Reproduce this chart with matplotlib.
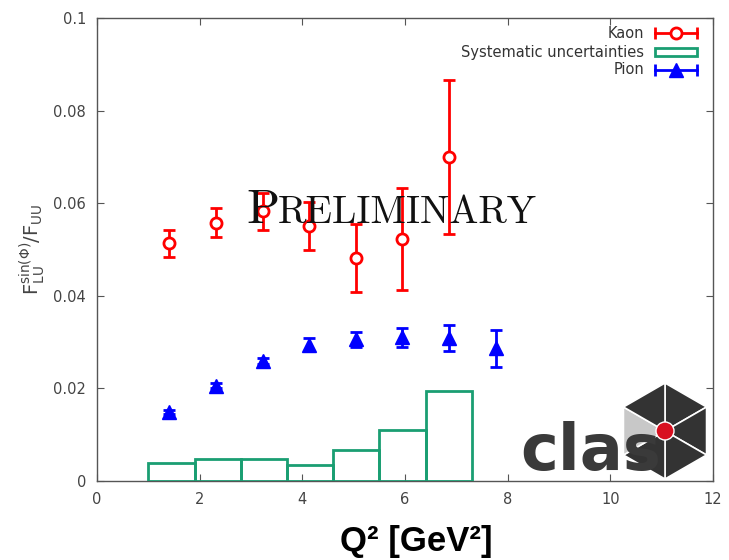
import numpy as np
import matplotlib
matplotlib.use('Agg')
import matplotlib.pyplot as plt
from matplotlib.patches import Polygon, Circle, Rectangle
from matplotlib.lines import Line2D

# data
kaon_q2 = [1.40, 2.32, 3.24, 4.13, 5.05, 5.95, 6.86]
kaon_val = [0.0513, 0.0558, 0.0583, 0.0551, 0.0482, 0.0522, 0.0700]
kaon_err = [0.0030, 0.0032, 0.0040, 0.0052, 0.0073, 0.0110, 0.0167]

pion_q2 = [1.40, 2.32, 3.24, 4.13, 5.05, 5.95, 6.86, 7.78]
pion_val = [0.0149, 0.0206, 0.0259, 0.0294, 0.0306, 0.0310, 0.0308, 0.0287]
pion_err = [0.0004, 0.0005, 0.0006, 0.0014, 0.0016, 0.0020, 0.0028, 0.0040]

sys_edges = [1.0, 1.9, 2.8, 3.7, 4.6, 5.5, 6.4]
sys_width = 0.9
sys_val = [0.0038, 0.0047, 0.0048, 0.0034, 0.0066, 0.0110, 0.0195]

xticks = [0, 2, 4, 6, 8, 10, 12]
yticks = [0, 0.02, 0.04, 0.06, 0.08, 0.1]
ytick_labels = ['0', '0.02', '0.04', '0.06', '0.08', '0.1']

fig = plt.figure(figsize=(7.29, 5.6), dpi=100)
ax = fig.add_axes([97/729, 1-481/560, (713-97)/729, (481-18)/560])

green = '#1a9e72'
ax.errorbar(kaon_q2, kaon_val, yerr=kaon_err, fmt='o', color='red', ecolor='red',
            mfc='white', mec='red', ms=8, mew=2, elinewidth=2, capsize=4, capthick=2,
            zorder=4)
ax.bar(sys_edges, sys_val, width=sys_width, align='edge', fill=False,
       edgecolor=green, linewidth=2, zorder=3)
ax.errorbar(pion_q2, pion_val, yerr=pion_err, fmt='^', color='blue', ecolor='blue',
            mfc='blue', mec='blue', ms=9.5, elinewidth=2, capsize=4, capthick=2,
            zorder=4)

ax.set_xlim(0, 12)
ax.set_ylim(0, 0.1)
ax.set_xticks(xticks)
ax.set_yticks(yticks)
ax.set_yticklabels(ytick_labels)
ax.tick_params(direction='in', top=True, right=True, length=5, width=0.8,
               colors='#555555', labelcolor='#444444', labelsize=10.5, pad=8)
for s in ax.spines.values():
    s.set_color('#555555')
    s.set_linewidth(1)

ax.set_ylabel(r'$\mathregular{F_{LU}^{sin(\Phi)}/F_{UU}}$', color='#444444',
              fontsize=14, labelpad=4)
fig.text(416/729, 1-541/560, 'Q² [GeV²]', family='Liberation Sans', weight='bold',
         fontsize=25, ha='center', va='center', color='black')

# overlay in pixel coordinates for key, stamp and logo
lax = fig.add_axes([0, 0, 1, 1], facecolor='none')
lax.set_xlim(0, 729)
lax.set_ylim(560, 0)
lax.axis('off')

# key, gnuplot style: text right aligned, sample on the right
key_labels = ['Kaon', 'Systematic uncertainties', 'Pion']
key_y = [33, 52, 70]
for lab, y in zip(key_labels, key_y):
    lax.text(644, y, lab, fontsize=10.5, color='#333333', ha='right', va='center')
x0, x1 = 655, 697
lax.add_line(Line2D([x0, x1], [33, 33], color='red', lw=2))
lax.add_line(Line2D([x0, x1], [33, 33], color='red', lw=0, marker='|', ms=8, mew=2))
lax.add_line(Line2D([676], [33], color='red', lw=0, marker='o', ms=8, mfc='white', mew=2))
lax.add_patch(Rectangle((x0, 48), x1 - x0, 8, fill=False, edgecolor=green, lw=2))
lax.add_line(Line2D([x0, x1], [70, 70], color='blue', lw=2))
lax.add_line(Line2D([x0, x1], [70, 70], color='blue', lw=0, marker='|', ms=8, mew=2))
lax.add_line(Line2D([676], [70], color='blue', lw=0, marker='^', ms=9.5))

# "Preliminary" stamp in small caps
lax.text(246, 223, 'P', family='cmr10', fontsize=35, color='#111111',
         ha='left', va='baseline', zorder=10)
lax.text(278, 223, 'RELIMINARY', family='cmr10', fontsize=28,
         color='#111111', ha='left', va='baseline', zorder=10)

# CLAS logo
cx, cy, r = 665, 431, 48
ang = np.radians([90, 30, -30, -90, -150, 150])
vx = cx + r * np.cos(ang)
vy = cy - r * np.sin(ang)
for i in range(6):
    j = (i + 1) % 6
    col = '#c8c8c8' if i == 4 else '#333333'
    lax.add_patch(Polygon([[cx, cy], [vx[i], vy[i]], [vx[j], vy[j]]], closed=True,
                          facecolor=col, edgecolor='white', linewidth=1.2))
lax.add_patch(Circle((cx, cy), 9, facecolor='#d81020', edgecolor='white', linewidth=1))
lax.text(520, 470, 'clas', family='DejaVu Sans', weight='bold', fontsize=46,
         color='#3a3a3a', ha='left', va='baseline')

fig.savefig('out.png', dpi=100)
